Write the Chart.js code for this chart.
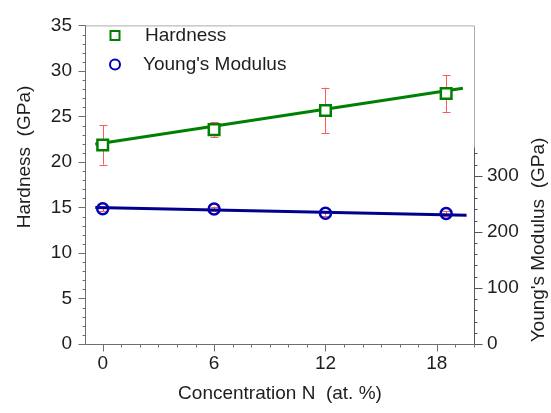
<!DOCTYPE html>
<html>
<head>
<meta charset="utf-8">
<script src="https://cdn.jsdelivr.net/npm/chart.js@4.4.0/dist/chart.umd.min.js"></script>
<style>
    html, body { margin: 0; padding: 0; background: #fff; }
    canvas { display: block; }
</style>
</head>
<body>
<canvas id="myChart" width="551" height="413"></canvas>
<script>
// values
const concentration = [0, 6, 12, 18.5];
const hardness = [21.86, 23.55, 25.65, 27.52];
const hardnessErr = [2.15, 0.8, 2.5, 2.0];
const modulus = [241, 240.5, 233, 232.5];
const modulusErr = [4, 4, 4, 4];

// linear fits as drawn
const hardnessFitX = [-0.4, 19.4];
const hardnessFitY = [21.95, 28.1];
const modulusFitX = [-0.4, 19.6];
const modulusFitY = [243.5, 229.5];

const xTicks = [0, 6, 12, 18];
const hardnessTicks = [0, 5, 10, 15, 20, 25, 30, 35];
const modulusTicks = [0, 100, 200, 300];

const FONT = "'Liberation Sans', Arial, sans-serif";
const TEXT = '#1e1e1e';
const GREEN = '#008000';
const NAVY = '#00008c';
const BLUE = '#0000b4';
const ERR = '#ff5a5a';

function toPoints(xs, ys) {
    return xs.map((x, i) => ({ x: x, y: ys[i] }));
}

function drawErrorBars(ctx, xScale, yScale, xs, ys, errs) {
    xs.forEach((x, i) => {
        const px = Math.round(xScale.getPixelForValue(x)) + 0.5;
        const top = yScale.getPixelForValue(ys[i] + errs[i]);
        const bot = yScale.getPixelForValue(ys[i] - errs[i]);
        ctx.beginPath();
        ctx.moveTo(px, top);
        ctx.lineTo(px, bot);
        ctx.moveTo(px - 4, Math.round(top) + 0.5);
        ctx.lineTo(px + 4, Math.round(top) + 0.5);
        ctx.moveTo(px - 4, Math.round(bot) + 0.5);
        ctx.lineTo(px + 4, Math.round(bot) + 0.5);
        ctx.stroke();
    });
}

const decor = {
    id: 'decor',
    beforeDatasetsDraw(chart) {
        const { ctx, chartArea: a, scales } = chart;
        ctx.save();
        // thin frame on top and right
        ctx.strokeStyle = '#ababab';
        ctx.lineWidth = 1;
        ctx.beginPath();
        ctx.moveTo(a.left, a.top + 0.5);
        ctx.lineTo(Math.round(a.right) + 0.5, a.top + 0.5);
        ctx.lineTo(Math.round(a.right) + 0.5, a.bottom);
        ctx.stroke();

        ctx.strokeStyle = ERR;
        drawErrorBars(ctx, scales.x, scales.y, concentration, hardness, hardnessErr);
        drawErrorBars(ctx, scales.x, scales.y2, concentration, modulus, modulusErr);
        ctx.restore();
    },
    afterDraw(chart) {
        const { ctx, chartArea: a, scales } = chart;
        const xs = scales.x, yl = scales.y, yr = scales.y2;
        ctx.save();
        ctx.strokeStyle = '#6e6e6e';
        ctx.lineWidth = 1;

        const lx = Math.round(a.left) - 0.5;
        const by = Math.round(a.bottom) + 0.5;
        const rx = Math.round(a.right) + 0.5;

        ctx.beginPath();
        // left axis
        ctx.moveTo(lx, a.top);
        ctx.lineTo(lx, by);
        // bottom axis
        ctx.moveTo(lx, by);
        ctx.lineTo(rx, by);
        // left ticks
        for (let v = 0; v <= 35; v++) {
            const py = Math.round(yl.getPixelForValue(v)) + 0.5;
            const len = v % 5 === 0 ? 7 : 3;
            ctx.moveTo(lx - len, py);
            ctx.lineTo(lx, py);
        }
        // bottom ticks
        for (let v = 0; v <= 20; v++) {
            const px = Math.round(xs.getPixelForValue(v)) + 0.5;
            const len = v % 6 === 0 ? 7 : 3;
            ctx.moveTo(px, by);
            ctx.lineTo(px, by + len);
        }
        ctx.stroke();

        // right axis, only 0..350
        ctx.strokeStyle = '#555';
        ctx.beginPath();
        ctx.moveTo(rx, yr.getPixelForValue(0));
        ctx.lineTo(rx, yr.getPixelForValue(350));
        for (let v = 0; v <= 340; v += 20) {
            const py = Math.round(yr.getPixelForValue(v)) + 0.5;
            const len = v % 100 === 0 ? 8 : 3;
            ctx.moveTo(rx, py);
            ctx.lineTo(rx + len, py);
        }
        ctx.stroke();

        // y titles, both read bottom to top
        ctx.fillStyle = TEXT;
        ctx.font = '19px ' + FONT;
        ctx.textAlign = 'center';
        ctx.textBaseline = 'middle';
        ctx.save();
        ctx.translate(25, 157);
        ctx.rotate(-Math.PI / 2);
        ctx.fillText('Hardness  (GPa)', 0, 0);
        ctx.restore();
        ctx.save();
        ctx.translate(539, 240);
        ctx.rotate(-Math.PI / 2);
        ctx.fillText("Young's Modulus  (GPa)", 0, 0);
        ctx.restore();

        // legend
        ctx.lineWidth = 2;
        ctx.strokeStyle = GREEN;
        ctx.fillStyle = '#fff';
        ctx.fillRect(110.5, 31, 9, 9);
        ctx.strokeRect(110.5, 31, 9, 9);
        ctx.strokeStyle = BLUE;
        ctx.beginPath();
        ctx.arc(115, 64.5, 5, 0, Math.PI * 2);
        ctx.stroke();
        ctx.fillStyle = TEXT;
        ctx.textAlign = 'left';
        ctx.fillText('Hardness', 145, 36);
        ctx.fillText("Young's Modulus", 143, 65);
        ctx.restore();
    }
};

const ctx = document.getElementById('myChart').getContext('2d');
const myChart = new Chart(ctx, {
    type: 'scatter',
    data: {
        datasets: [
            {
                label: 'Hardness',
                data: toPoints(concentration, hardness),
                yAxisID: 'y',
                pointStyle: 'rect',
                pointRadius: 7.5,
                pointBorderWidth: 2.5,
                borderColor: GREEN,
                backgroundColor: '#fff',
                order: 0
            },
            {
                label: "Young's Modulus",
                data: toPoints(concentration, modulus),
                yAxisID: 'y2',
                pointStyle: 'circle',
                pointRadius: 5.5,
                pointBorderWidth: 2.5,
                borderColor: BLUE,
                backgroundColor: 'rgba(0,0,0,0)',
                order: 0
            },
            {
                label: 'Hardness fit',
                data: toPoints(hardnessFitX, hardnessFitY),
                yAxisID: 'y',
                showLine: true,
                pointRadius: 0,
                borderColor: GREEN,
                borderWidth: 3,
                order: 1
            },
            {
                label: 'Modulus fit',
                data: toPoints(modulusFitX, modulusFitY),
                yAxisID: 'y2',
                showLine: true,
                pointRadius: 0,
                borderColor: NAVY,
                borderWidth: 3,
                order: 1
            }
        ]
    },
    options: {
        responsive: false,
        animation: false,
        layout: { padding: { top: 21, left: 0, right: 0, bottom: 0 } },
        plugins: {
            legend: { display: false },
            tooltip: { enabled: false }
        },
        scales: {
            x: {
                type: 'linear',
                min: -0.9,
                max: 20,
                afterBuildTicks: s => { s.ticks = xTicks.map(v => ({ value: v })); },
                afterFit: s => { s.height = 69; },
                grid: { display: false, drawTicks: false },
                border: { display: false },
                ticks: { color: TEXT, font: { family: FONT, size: 19 }, padding: 8 },
                title: {
                    display: true,
                    text: 'Concentration N  (at. %)',
                    color: TEXT,
                    font: { family: FONT, size: 19 },
                    padding: { bottom: 8 }
                }
            },
            y: {
                position: 'left',
                min: 0,
                max: 35,
                afterBuildTicks: s => { s.ticks = hardnessTicks.map(v => ({ value: v })); },
                afterFit: s => { s.width = 86; },
                grid: { display: false, drawTicks: false },
                border: { display: false },
                ticks: { color: TEXT, font: { family: FONT, size: 19 }, padding: 14 }
            },
            y2: {
                position: 'right',
                min: 0,
                max: 568,
                afterBuildTicks: s => { s.ticks = modulusTicks.map(v => ({ value: v })); },
                afterFit: s => { s.width = 77; },
                grid: { display: false, drawTicks: false },
                border: { display: false },
                ticks: { color: TEXT, font: { family: FONT, size: 19 }, padding: 13 }
            }
        }
    },
    plugins: [decor]
});
</script>
</body>
</html>
